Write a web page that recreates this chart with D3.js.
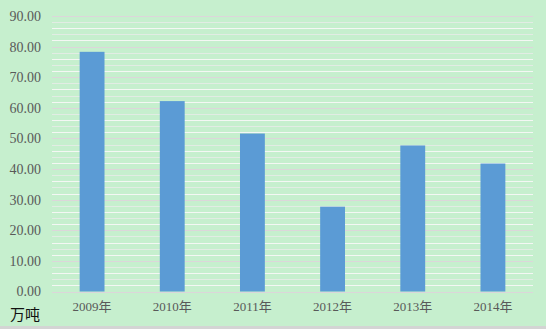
<!DOCTYPE html>
<html><head><meta charset="utf-8">
<script src="https://cdn.jsdelivr.net/npm/d3@7"></script>
<style>html,body{margin:0;padding:0;background:#c6efce;}svg{display:block;}</style>
</head><body>
<svg id="c" width="546" height="329"></svg>
<script>
const categories = ["2009年","2010年","2011年","2012年","2013年","2014年"];
const values = [78.3, 62.2, 51.6, 27.7, 47.7, 41.8];
const yTicks = [0,10,20,30,40,50,60,70,80,90];
const minorTicks = d3.range(0, 91, 2);
const unitLabel = "万吨";

const svg = d3.select("#c");
const W = 546, H = 329;
const m = {left: 52, right: 13, top: 16, bottom: 37.5};
svg.append("rect").attr("width", W).attr("height", H).attr("fill", "#c6efce");
svg.append("rect").attr("x", 0).attr("y", H - 3).attr("width", W).attr("height", 3).attr("fill", "#d4d4d4");

const x = d3.scaleBand().domain(categories).range([m.left, W - m.right]).paddingInner(0.69).paddingOuter(0.345);
const y = d3.scaleLinear().domain([0, 90]).range([H - m.bottom, m.top]);

const g = svg.append("g");
g.selectAll("line.minor").data(minorTicks.filter(d => d % 10 !== 0)).join("line")
  .attr("class","minor")
  .attr("x1", m.left).attr("x2", W - m.right)
  .attr("y1", d => Math.round(y(d)) + 0.5).attr("y2", d => Math.round(y(d)) + 0.5)
  .attr("stroke", (d,i) => i % 2 === 0 ? "#f4f7f4" : "#e2ece4").attr("stroke-width", 1);
g.selectAll("line.major").data(yTicks).join("line")
  .attr("class","major")
  .attr("x1", m.left).attr("x2", W - m.right)
  .attr("y1", d => Math.round(y(d)) + 0.5).attr("y2", d => Math.round(y(d)) + 0.5)
  .attr("stroke", "#dcd6da").attr("stroke-width", 1);

g.selectAll("rect.bar").data(values).join("rect")
  .attr("class","bar")
  .attr("x", (d,i) => x(categories[i]))
  .attr("width", x.bandwidth())
  .attr("y", d => y(d))
  .attr("height", d => y(0) - y(d))
  .attr("fill", "#5b9bd5");

const yAxis = d3.axisLeft(y).tickValues(yTicks).tickFormat(d3.format(".2f")).tickSize(0).tickPadding(11);
const ya = svg.append("g").attr("transform", `translate(${m.left},0)`).call(yAxis);
ya.select(".domain").remove();
ya.selectAll("text").attr("font-family", "Liberation Serif, serif").attr("font-size", 14).attr("fill", "#595959");

const xAxis = d3.axisBottom(x).tickSize(0).tickPadding(10);
const xa = svg.append("g").attr("transform", `translate(0,${H - m.bottom})`).call(xAxis);
xa.select(".domain").remove();
xa.selectAll("text").attr("font-family", "Liberation Serif, 'Noto Sans CJK SC', serif").attr("font-size", 13).attr("fill", "#595959");

svg.append("text").attr("x", 10).attr("y", 320).text(unitLabel)
  .attr("font-family", "'Noto Sans CJK SC', sans-serif").attr("font-size", 15).attr("fill", "#111");
</script>
</body></html>
